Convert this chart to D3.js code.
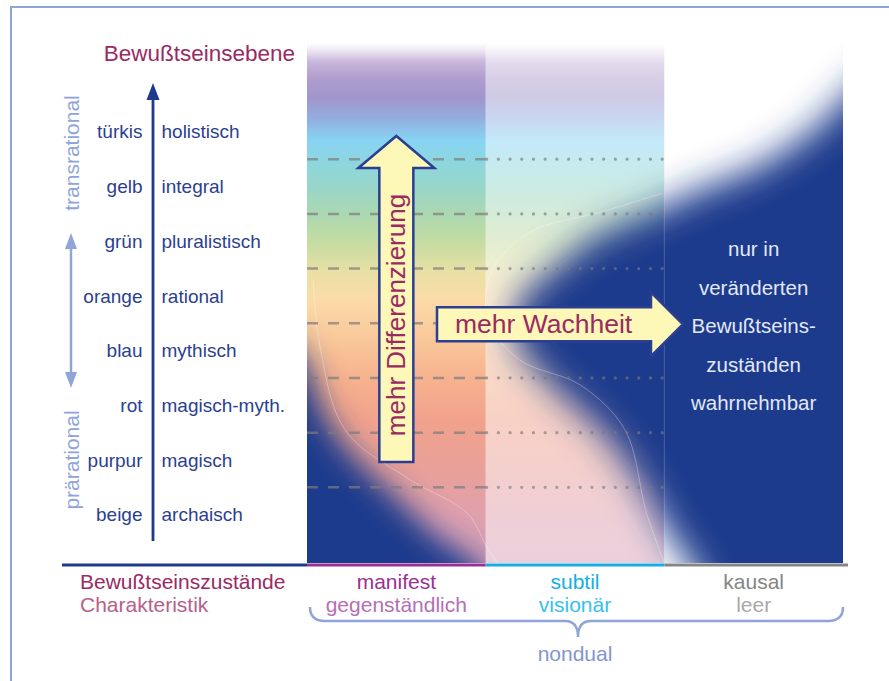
<!DOCTYPE html>
<html>
<head>
<meta charset="utf-8">
<script src="https://cdn.jsdelivr.net/npm/d3@7"></script>
<style>
  body { margin: 0; background: #fff; }
  svg { display: block; font-family: "Liberation Sans", Arial, Helvetica, sans-serif; }
</style>
</head>
<body>
<div id="chart"></div>
<script>
// levels (top to bottom) and their characteristics
const LEVELS = ["türkis", "gelb", "grün", "orange", "blau", "rot", "purpur", "beige"];
const CHARACTERISTICS = ["holistisch", "integral", "pluralistisch", "rational", "mythisch", "magisch-myth.", "magisch", "archaisch"];
const GROUPS = ["transrational", "prärational"];

// states of consciousness
const STATES = ["manifest", "subtil", "kausal"];
const STATE_TRAITS = ["gegenständlich", "visionär", "leer"];
const KAUSAL_NOTE = ["nur in", "veränderten", "Bewußtseins-", "zuständen", "wahrnehmbar"];

// boundaries of the dark field, in [column, row] units
const FIELD_MANIFEST = [[-0.32, 4.12], [-0.04, 4.53], [0.034, 5.13], [0.13, 5.86], [0.27, 6.46], [0.43, 6.96], [0.74, 7.93], [0.94, 8.38], [1.08, 9.06], [1.08, 9.97], [-0.32, 9.97]];
const FIELD_SUBTIL_KAUSAL = [[3.32, -1.18], [3.15, -0.54], [3.0, -0.08], [2.87, 0.37], [2.54, 1.11], [2.2, 1.56], [2.0, 1.87], [1.86, 2.06], [1.58, 2.48], [1.38, 3.01], [1.19, 3.57], [1.16, 4.25], [1.34, 5.04], [1.66, 6.01], [1.88, 7.01], [2.02, 7.82], [2.17, 8.51], [2.31, 9.43], [3.32, 9.79]];
const FAINT_1 = [[0.034, 3.21], [0.073, 4.43], [0.213, 5.95], [0.577, 6.86], [0.896, 7.47], [1.007, 8.09], [1.064, 8.38]];
const FAINT_2 = [[1.99, 1.62], [1.64, 1.97], [1.25, 2.33], [1.035, 3.03], [1.013, 3.94], [1.19, 4.67], [1.53, 5.13], [1.78, 5.95], [1.9, 7.47], [2.0, 8.38]];

const SPECTRUM = [
  [43, "#ffffff"], [50, "#eee8f3"], [62, "#c9b6dc"], [78, "#b09dcd"], [98, "#a096cc"],
  [118, "#93addf"], [140, "#88d3f4"], [162, "#8dd6df"], [188, "#98d6c8"], [215, "#acd8b0"],
  [245, "#c8dca2"], [272, "#e9e0a4"], [300, "#fcdba8"], [340, "#f9c79a"], [380, "#f6b18e"],
  [420, "#f1a28c"], [470, "#e9a099"], [520, "#dea0af"], [563, "#d6a1b9"],
];

const STATE_COLORS = ["#9b2f93", "#14aee6", "#858585"];
const TRAIT_COLORS = ["#b470b4", "#35c0ee", "#a8a8a8"];
const DARK = "#1d3a8c";
const NAVY = "#2b3f8f";
const WINE = "#9a2a62";
const PALE = "#8fa5da";

const width = 889;
const height = 681;
const fieldTop = 43;
const fieldBottom = 563;

const x = d3.scaleBand().domain(STATES).range([307, 843]);
const y = d3.scaleBand().domain(LEVELS).range([104.5, 542]);
const col = d3.scaleLinear().domain([0, 3]).range(x.range());
const row = d3.scaleLinear().domain([0, 8]).range(y.range());

const svg = d3.select("#chart").append("svg").attr("width", width).attr("height", height);
const defs = svg.append("defs");

defs
  .append("linearGradient")
  .attr("id", "spectrum")
  .attr("gradientUnits", "userSpaceOnUse")
  .attr("x1", 0).attr("y1", fieldTop).attr("x2", 0).attr("y2", fieldBottom)
  .selectAll("stop")
  .data(SPECTRUM)
  .join("stop")
  .attr("offset", (d) => (d[0] - fieldTop) / (fieldBottom - fieldTop))
  .attr("stop-color", (d) => d[1]);

for (const [id, sd] of [["softA", 15], ["softB", 18]]) {
  defs
    .append("filter")
    .attr("id", id)
    .attr("filterUnits", "userSpaceOnUse")
    .attr("x", 150).attr("y", -100).attr("width", 900).attr("height", 850)
    .append("feGaussianBlur")
    .attr("stdDeviation", sd);
}

defs.append("clipPath").attr("id", "clipManifest")
  .append("rect")
  .attr("x", x("manifest")).attr("y", fieldTop).attr("width", x.bandwidth()).attr("height", fieldBottom - fieldTop);

defs.append("clipPath").attr("id", "clipRest")
  .append("rect")
  .attr("x", x("subtil")).attr("y", fieldTop).attr("width", x.bandwidth() * 2).attr("height", fieldBottom - fieldTop);

// frame
svg.append("path")
  .attr("d", `M11,${height}V7H${width}`)
  .attr("fill", "none")
  .attr("stroke", PALE)
  .attr("stroke-width", 2);

// columns
svg.append("rect")
  .attr("x", x("manifest")).attr("y", fieldTop)
  .attr("width", x.bandwidth()).attr("height", fieldBottom - fieldTop)
  .attr("fill", "url(#spectrum)");

svg.append("rect")
  .attr("x", x("subtil")).attr("y", fieldTop)
  .attr("width", x.bandwidth()).attr("height", fieldBottom - fieldTop)
  .attr("fill", "url(#spectrum)")
  .attr("opacity", 0.5);

const toPx = (pts) => pts.map(([u, v]) => [col(u), row(v)]);
const area = (pts) => d3.line().curve(d3.curveCatmullRom)(toPx(pts)) + "Z";

svg.append("g").attr("clip-path", "url(#clipManifest)")
  .append("path")
  .attr("d", area(FIELD_MANIFEST))
  .attr("fill", DARK)
  .attr("filter", "url(#softA)");

svg.append("g").attr("clip-path", "url(#clipRest)")
  .append("path")
  .attr("d", area(FIELD_SUBTIL_KAUSAL))
  .attr("fill", DARK)
  .attr("filter", "url(#softB)");

svg.append("g")
  .attr("fill", "none")
  .attr("stroke", "#fff")
  .attr("stroke-opacity", 0.3)
  .attr("stroke-width", 1)
  .selectAll("path")
  .data([FAINT_1, FAINT_2])
  .join("path")
  .attr("d", (d) => d3.line().curve(d3.curveCatmullRom)(toPx(d)));

svg.append("line")
  .attr("x1", x("kausal")).attr("x2", x("kausal"))
  .attr("y1", fieldTop).attr("y2", fieldBottom)
  .attr("stroke", "#fff").attr("stroke-opacity", 0.2);

// level dividers
const dividers = LEVELS.slice(1).map((l) => y(l));

svg.append("g")
  .selectAll("line")
  .data(dividers)
  .join("line")
  .attr("x1", x("manifest")).attr("x2", x("manifest") + x.bandwidth())
  .attr("y1", (d) => d).attr("y2", (d) => d)
  .attr("stroke", "#7c7c7c")
  .attr("stroke-opacity", 0.7)
  .attr("stroke-width", 2.5)
  .attr("stroke-dasharray", "11,10");

svg.append("g")
  .selectAll("line")
  .data(dividers)
  .join("line")
  .attr("x1", x("subtil") + 1).attr("x2", x("subtil") + x.bandwidth())
  .attr("y1", (d) => d).attr("y2", (d) => d)
  .attr("stroke", "#7a7a7a")
  .attr("stroke-opacity", 0.65)
  .attr("stroke-width", 3.2)
  .attr("stroke-linecap", "round")
  .attr("stroke-dasharray", "0,11.7");

// arrows
const mid = x("manifest") + x.bandwidth() / 2;
svg.append("path")
  .attr("d", `M${mid - 17},462V168H${mid - 38}L${mid},136L${mid + 38},168H${mid + 17}V462Z`)
  .attr("fill", "#fdf8b8")
  .attr("stroke", "#2a3f92")
  .attr("stroke-width", 2.5);

svg.append("text")
  .attr("transform", `translate(${mid},315) rotate(-90)`)
  .attr("text-anchor", "middle")
  .attr("dy", "0.35em")
  .attr("font-size", 26)
  .attr("fill", WINE)
  .text("mehr Differenzierung");

const ay = y("blau");
svg.append("path")
  .attr("d", `M437,${ay - 16}H651V${ay - 31}L683,${ay + 1}L651,${ay + 33}V${ay + 18}H437Z`)
  .attr("fill", "#fdf8b8")
  .attr("stroke", "#2a3f92")
  .attr("stroke-width", 2.5);

svg.append("text")
  .attr("x", 455)
  .attr("y", ay + 10)
  .attr("font-size", 26.5)
  .attr("fill", WINE)
  .text("mehr Wachheit");

// kausal note
svg.append("g")
  .attr("text-anchor", "middle")
  .attr("font-size", 20.5)
  .attr("fill", "#e3e8f6")
  .selectAll("text")
  .data(KAUSAL_NOTE)
  .join("text")
  .attr("x", x("kausal") + x.bandwidth() / 2)
  .attr("y", (d, i) => 249 + i * 38.5)
  .attr("dy", "0.35em")
  .text((d) => d);

// level axis
svg.append("text")
  .attr("x", 295).attr("y", 61)
  .attr("text-anchor", "end")
  .attr("font-size", 22.5)
  .attr("fill", WINE)
  .text("Bewußtseinsebene");

svg.append("line")
  .attr("x1", 153).attr("x2", 153).attr("y1", 541).attr("y2", 96)
  .attr("stroke", "#1f3a8d").attr("stroke-width", 2.8);
svg.append("path").attr("d", "M153,83L146.5,100H159.5Z").attr("fill", "#1f3a8d");

svg.append("g")
  .attr("font-size", 19)
  .attr("fill", NAVY)
  .call((g) => g.selectAll(".lvl")
    .data(LEVELS)
    .join("text")
    .attr("class", "lvl")
    .attr("x", 142.5)
    .attr("y", (d) => y(d) + y.bandwidth() / 2)
    .attr("dy", "0.35em")
    .attr("text-anchor", "end")
    .text((d) => d))
  .call((g) => g.selectAll(".chr")
    .data(CHARACTERISTICS)
    .join("text")
    .attr("class", "chr")
    .attr("x", 161.5)
    .attr("y", (d, i) => y(LEVELS[i]) + y.bandwidth() / 2)
    .attr("dy", "0.35em")
    .text((d) => d));

svg.append("g")
  .attr("font-size", 21)
  .attr("fill", PALE)
  .attr("text-anchor", "middle")
  .selectAll("text")
  .data(GROUPS)
  .join("text")
  .attr("transform", (d, i) => `translate(71.5,${i === 0 ? 153 : 460}) rotate(-90)`)
  .attr("dy", "0.35em")
  .text((d) => d);

svg.append("line")
  .attr("x1", 71).attr("x2", 71).attr("y1", 245).attr("y2", 375)
  .attr("stroke", PALE).attr("stroke-width", 2.5);
svg.append("path").attr("d", "M71,233L65,249H77Z").attr("fill", PALE);
svg.append("path").attr("d", "M71,388L65,372H77Z").attr("fill", PALE);

// baseline
svg.append("line")
  .attr("x1", 62).attr("x2", x("manifest")).attr("y1", 565).attr("y2", 565)
  .attr("stroke", "#1f3a8d").attr("stroke-width", 3);

svg.append("g")
  .selectAll("line")
  .data(STATES)
  .join("line")
  .attr("x1", (d) => x(d))
  .attr("x2", (d, i) => x(d) + x.bandwidth() + (i === 2 ? 5 : 0))
  .attr("y1", 565).attr("y2", 565)
  .attr("stroke", (d, i) => STATE_COLORS[i])
  .attr("stroke-width", 3);

// bottom labels
svg.append("text")
  .attr("x", 80).attr("y", 582).attr("dy", "0.35em")
  .attr("font-size", 21).attr("fill", WINE)
  .text("Bewußtseinszustände");
svg.append("text")
  .attr("x", 80).attr("y", 605).attr("dy", "0.35em")
  .attr("font-size", 21).attr("fill", "#b8608a")
  .text("Charakteristik");

const labels = svg.append("g").attr("text-anchor", "middle").attr("font-size", 21);
labels.selectAll(".st")
  .data(STATES)
  .join("text")
  .attr("class", "st")
  .attr("x", (d) => x(d) + x.bandwidth() / 2)
  .attr("y", 582).attr("dy", "0.35em")
  .attr("fill", (d, i) => STATE_COLORS[i])
  .text((d) => d);
labels.selectAll(".tr")
  .data(STATE_TRAITS)
  .join("text")
  .attr("class", "tr")
  .attr("x", (d, i) => x(STATES[i]) + x.bandwidth() / 2)
  .attr("y", 605).attr("dy", "0.35em")
  .attr("fill", (d, i) => TRAIT_COLORS[i])
  .text((d) => d);

// brace
const bl = x("manifest") + 3;
const br = x("kausal") + x.bandwidth();
const bc = 578;
svg.append("path")
  .attr("d", `M${bl},607Q${bl},621 ${bl + 15},621H${bc - 13}Q${bc},621 ${bc},637Q${bc},621 ${bc + 13},621H${br - 15}Q${br},621 ${br},607`)
  .attr("fill", "none")
  .attr("stroke", PALE)
  .attr("stroke-width", 2.5);

svg.append("text")
  .attr("x", bc - 3).attr("y", 654).attr("dy", "0.35em")
  .attr("text-anchor", "middle")
  .attr("font-size", 21)
  .attr("fill", "#8196d0")
  .text("nondual");
</script>
</body>
</html>
